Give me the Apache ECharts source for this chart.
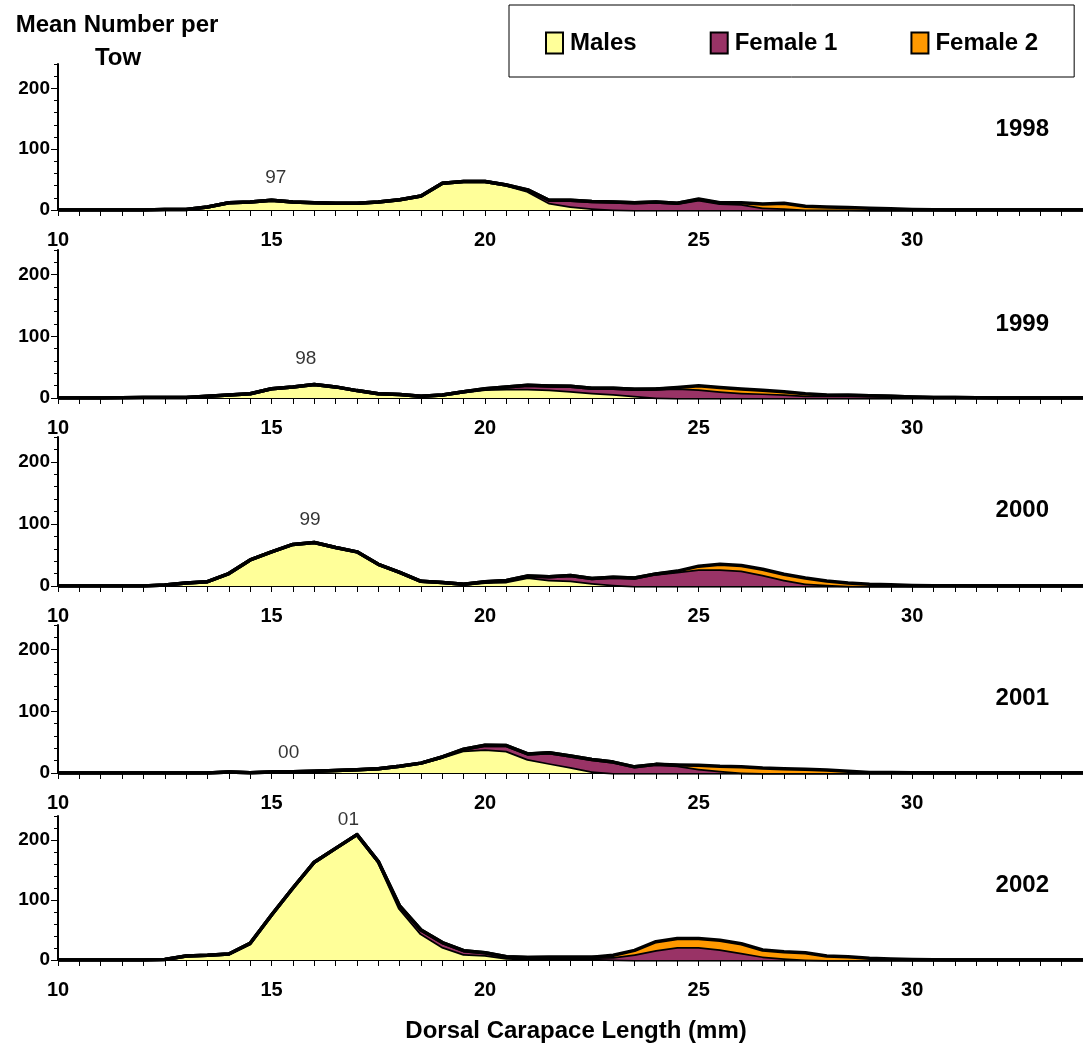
<!DOCTYPE html>
<html><head><meta charset="utf-8">
<script src="https://cdn.jsdelivr.net/npm/echarts@6/dist/echarts.min.js"></script>
<style>html,body{margin:0;padding:0;background:#fff}#c{width:1083px;height:1047px}</style>
</head><body><div id="c"></div>
<script>
// Carapace length classes (mm)
const lengths = ['10','10.5','11','11.5','12','12.5','13','13.5','14','14.5','15','15.5','16','16.5','17','17.5','18','18.5','19','19.5','20','20.5','21','21.5','22','22.5','23','23.5','24','24.5','25','25.5','26','26.5','27','27.5','28','28.5','29','29.5','30','30.5','31','31.5','32','32.5','33','33.5','34'];
const years = ['1998','1999','2000','2001','2002'];
const seriesNames = ['Males','Female 1','Female 2'];
const yTickLabels = [0, 100, 200];

const males1998 = [0,0,0,0,0,1,1,5,12,13, 16,13,12,11,11,13,17,23,44,47, 47,41,31,12,6,3,1,0,0,0, 0,0,0,0,0,0,0,0,0,0, 0,0,0,0,0,0,0,0,0];
const fem1_1998 = [0,0,0,0,0,0,0,0,0,0, 0,0,0,0,0,0,0,0,0,0, 0,0,2,4,10,11,12,12,13,11, 17,11,10,4,3,1,1,1,0,0, 0,0,0,0,0,0,0,0,0];
const fem2_1998 = [0,0,0,0,0,0,0,0,0,0, 0,0,0,0,0,0,0,0,0,0, 0,0,0,0,0,0,0,0,0,0, 1,1,2,6,8,5,4,3,3,2, 1,0.5,0,0,0,0,0,0,0];

const males1999 = [0,0,0,0.5,1,1,1,3,5,7, 15,18,22,18,12,7,5.5,3,5,10, 14,15,15,13.6,11.4,8.7,6.5,3.8,1,0, 0,0,0,0,0,0,0,0,0,0, 0,0,0,0,0,0,0,0,0];
const fem1_1999 = [0,0,0,0,0,0,0,0,0,0, 0,0,0,0,0,0,0,0,0,0, 1,3,5.6,6,7.6,7.3,9.5,10.2,13.7,16, 14,11,8.7,7.5,6,4,4,4.3,3.8,2.7, 1.6,1,1,0.5,0,0,0,0,0];
const fem2_1999 = [0,0,0,0,0,0,0,0,0,0, 0,0,0,0,0,0,0,0,0,0, 0,0,0,0,0,0,0,0,0,1, 6,6,6,5,4,3,1,0,0,0, 0,0,0,0,0,0,0,0,0];

const males2000 = [0,0,0,0,0,1.5,5,7,20,42, 55,67,70,62,55,35,22,7.5,5.5,2.7, 6,7,14,10,9,5,2,0,0,0, 0,0,0,0,0,0,0,0,0,0, 0,0,0,0,0,0,0,0,0];
const fem1_2000 = [0,0,0,0,0,0,0,0,0,0, 0,0,0,0,0,0,0,0,0,0, 1,2,2,5,8,7,12,13,19.5,23, 27,27,25,18,10,4,2,0.5,0,0, 0,0,0,0,0,0,0,0,0];
const fem2_2000 = [0,0,0,0,0,0,0,0,0,0, 0,0,0,0,0,0,0,0,0,0, 0,0,0,0,0,0,0,0,0,1, 5,8,8,9,9,9,6,4.4,3,2, 1,0.5,0.3,0,0,0,0,0,0];

const males2001 = [0,0,0,0,0,0,0,0,1.5,0.5, 1.5,2,3,4,5.4,7,11,16,26,36.6, 38.7,36,22.6,16,9.7,2.7,0,0,0,0, 0,0,0,0,0,0,0,0,0,0, 0,0,0,0,0,0,0,0,0];
const fem1_2001 = [0,0,0,0,0,0,0,0,0,0, 0,0,0,0,0,0,0,0,0,2, 6.3,8.5,8.4,16.8,17.7,19.3,17.7,10,14,12, 7,3.8,1,0,0,0,0,0,0,0, 0,0,0,0,0,0,0,0,0];
const fem2_2001 = [0,0,0,0,0,0,0,0,0,0, 0,0,0,0,0,0,0,0,0,0, 0,0,0,0,0,0,0,0,0,1, 5.4,7,9,8,7,6,5,2.7,1,1, 0.5,0,0,0,0,0,0,0,0];

const males2002 = [0,0,0,0,0,1,6.7,7.8,10,27.8, 75,120,163,186,209,164,86,44,22,10, 8.3,3.3,2,3,3,2,1,0,0,0, 0,0,0,0,0,0,0,0,0,0, 0,0,0,0,0,0,0,0,0];
const fem1_2002 = [0,0,0,0,0,0,0,0,0,0, 0,0,0,0,0,0,4,6,7,5.6, 3.9,2,2,1.4,1.4,2.4,4,9.4,16.7,21.7, 21.7,17.8,12.2,6,2.8,1,0,0,0,0, 0,0,0,0,0,0,0,0,0];
const fem2_2002 = [0,0,0,0,0,0,0,0,0,0, 0,0,0,0,0,0,0,0,0,0, 0,0,0,0,0,0,3,6.6,13.8,14.3, 14.3,15,14.8,10.7,11.1,11.2,6.7,5.6,2.8,1.7, 1,0.5,0,0,0,0,0,0,0];

// Cohort annotations (text, carapace length, value)
const noteText = ['97','98','99','00','01'];
const noteX = [15.1, 15.8, 15.9, 15.4, 16.8];
const noteY = [53, 64, 106, 33, 233];

const malesByYear = [males1998, males1999, males2000, males2001, males2002];
const fem1ByYear = [fem1_1998, fem1_1999, fem1_2000, fem1_2001, fem1_2002];
const fem2ByYear = [fem2_1998, fem2_1999, fem2_2000, fem2_2001, fem2_2002];

const FONT = '"Liberation Sans", Arial, sans-serif';
const fills = ['#FFFF99', '#993366', '#FF9900'];
const panels = [
  {top: 64, height: 146},
  {top: 250, height: 148},
  {top: 437, height: 149},
  {top: 625, height: 148},
  {top: 816, height: 144}
];
const yearLabelY = [129, 324, 510, 698, 885];

const grid = [], xAxis = [], yAxis = [], series = [], graphic = [];
const n = years.length;
panels.forEach((p, i) => {
  grid.push({left: 58, right: -28, top: p.top, height: p.height, containLabel: false});
});
for (let i = 0; i < n; i++) {
  xAxis.push({
    type: 'category', gridIndex: i, data: lengths, boundaryGap: false,
    axisLine: {show: true, onZero: false, lineStyle: {color: '#000', width: 2}},
    axisTick: {show: true, interval: 0, length: 6, lineStyle: {color: '#000', width: 1}},
    axisLabel: {interval: 9, margin: 20, color: '#000', fontSize: 20, fontWeight: 'bold', fontFamily: FONT},
    splitLine: {show: false}
  });
}
for (let i = 0; i < n; i++) {
  xAxis.push({type: 'value', gridIndex: i, min: 10, max: 34, show: false});
}
for (let i = 0; i < n; i++) {
  yAxis.push({
    type: 'value', gridIndex: i, min: 0, max: 240, interval: 20,
    axisLine: {show: true, lineStyle: {color: '#000', width: 2}},
    axisTick: {show: true, length: 4, lineStyle: {color: '#000', width: 1}},
    axisLabel: {color: '#000', fontSize: 19, fontWeight: 'bold', fontFamily: FONT, margin: 8,
      formatter: v => (yTickLabels.indexOf(v) >= 0 ? String(v) : '')},
    splitLine: {show: false}
  });
}
for (let i = 0; i < n; i++) {
  yAxis.push({
    type: 'value', gridIndex: i, min: 0, max: 240, interval: 20, position: 'left',
    axisLine: {show: false},
    axisTick: {show: true, length: 7, customValues: yTickLabels, lineStyle: {color: '#000', width: 1}},
    axisLabel: {show: false},
    splitLine: {show: false}
  });
}
const dataSets = [malesByYear, fem1ByYear, fem2ByYear];
for (let i = 0; i < n; i++) {
  for (let s = 0; s < 3; s++) {
    series.push({
      type: 'line', name: seriesNames[s], xAxisIndex: i, yAxisIndex: i, stack: 'y' + years[i],
      data: dataSets[s][i], symbol: 'none', smooth: false,
      itemStyle: {color: fills[s]},
      lineStyle: {color: '#000', width: 3.5, join: 'round'},
      areaStyle: {color: fills[s], opacity: 1},
      z: 2 + s
    });
  }
  series.push({
    type: 'scatter', name: 'note' + i, xAxisIndex: n + i, yAxisIndex: i,
    data: [[noteX[i], noteY[i]]], symbolSize: 1, itemStyle: {color: 'rgba(0,0,0,0)'},
    label: {show: true, position: 'inside', formatter: noteText[i], color: '#000', fontSize: 19, fontFamily: FONT},
    z: 10
  });
  graphic.push({
    type: 'text', x: 1049, y: yearLabelY[i],
    style: {text: years[i], fill: '#000', font: 'bold 24px ' + FONT, textAlign: 'right', textVerticalAlign: 'middle'}
  });
}
graphic.push({type: 'text', x: 117, y: 25,
  style: {text: 'Mean Number per', fill: '#000', font: 'bold 24px ' + FONT, textAlign: 'center', textVerticalAlign: 'middle'}});
graphic.push({type: 'text', x: 118, y: 58,
  style: {text: 'Tow', fill: '#000', font: 'bold 24px ' + FONT, textAlign: 'center', textVerticalAlign: 'middle'}});
graphic.push({type: 'text', x: 576, y: 1031,
  style: {text: 'Dorsal Carapace Length (mm)', fill: '#000', font: 'bold 24px ' + FONT, textAlign: 'center', textVerticalAlign: 'middle'}});

const chart = echarts.init(document.getElementById('c'), null, {renderer: 'canvas'});
chart.setOption({
  backgroundColor: '#fff',
  animation: false,
  legend: {
    data: seriesNames, left: 509, top: 5, padding: [26, 36, 22, 36],
    itemGap: 73, itemWidth: 17, itemHeight: 21, icon: 'rect',
    borderColor: '#000', borderWidth: 1, selectedMode: false,
    itemStyle: {borderColor: '#000', borderWidth: 2},
    lineStyle: {opacity: 0},
    textStyle: {fontSize: 24, fontWeight: 'bold', fontFamily: FONT, color: '#000', padding: [0, 0, 0, 2]}
  },
  grid, xAxis, yAxis, series, graphic
});
</script></body></html>
